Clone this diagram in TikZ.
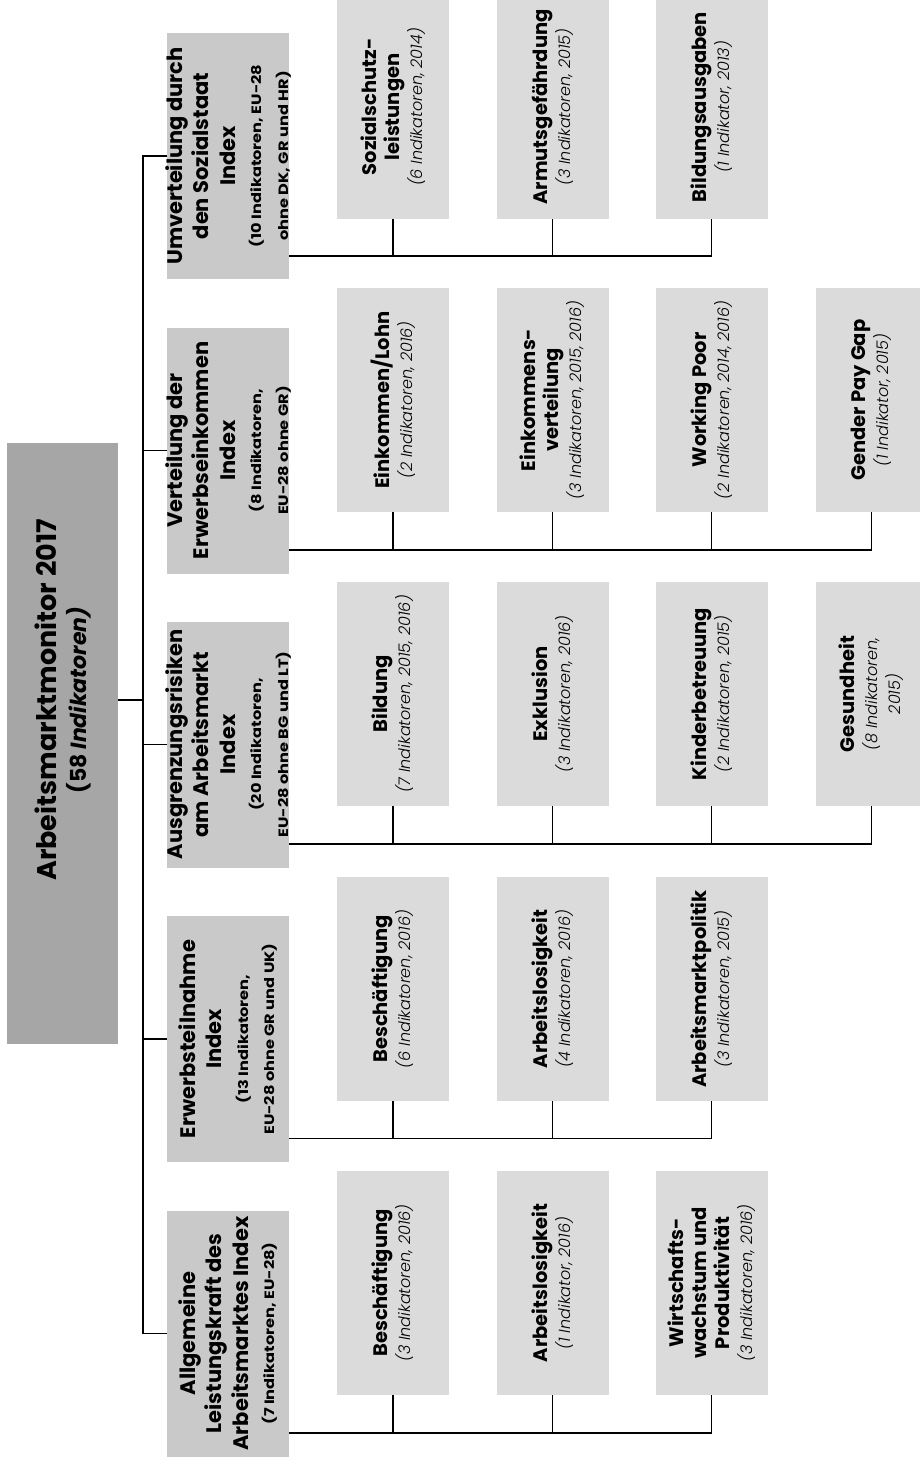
\documentclass[tikz,border=0pt]{standalone}
\usepackage{fontspec}
\setmainfont{Poppins}
\newfontfamily\lightit{Poppins}[UprightFont={* Light Italic}, BoldFont={* Italic}]
\newfontfamily\widebold{Poppins}[FakeStretch=1.2]
\definecolor{rootgray}{HTML}{A6A6A6}
\definecolor{catgray}{HTML}{C9C9C9}
\definecolor{subgray}{HTML}{DBDBDB}
\newcommand{\smb}[1]{{\widebold\fontsize{13.5}{16}\selectfont\bfseries #1}}
\newcommand{\sit}[1]{{\lightit\fontsize{16}{17}\selectfont\mdseries #1}}
\tikzset{
  rootbox/.style={fill=rootgray, draw=none, minimum width=111pt, minimum height=601pt, inner sep=0pt},
  catbox/.style={fill=catgray, draw=none, minimum width=122pt, minimum height=246pt, inner sep=0pt},
  subbox/.style={fill=subgray, draw=none, minimum width=112pt, minimum height=224pt, inner sep=0pt},
  vtext/.style={rotate=90, align=center, inner sep=0pt},
  cattext/.style={vtext, font=\fontsize{21}{26.5}\selectfont\bfseries},
  subtext/.style={vtext, font=\fontsize{19.5}{23}\selectfont\bfseries},
  link/.style={draw=black, line width=1.4pt},
}
\begin{document}
\begin{tikzpicture}[x=1pt, y=-1pt]
\useasboundingbox (0,0) rectangle (920,1464);
\fill[white] (0,0) rectangle (920,1464);

% root
\node[rootbox] (root) at (62.5,743.5) {};
\node[vtext, font=\fontsize{27}{30}\selectfont\bfseries] (roott) at (63,700)
  {Arbeitsmarktmonitor 2017\\{\fontsize{22}{26}\selectfont (58 \textit{Indikatoren)}}};

% categories
\node[catbox] (u) at (228,156) {};
\node[cattext] (ut) at (u.center) {Umverteilung durch\\den Sozialstaat\\Index\\\smb{(10 Indikatoren, EU-28}\\\smb{ohne DK, GR und HR)}};
\node[catbox] (v) at (228,450.5) {};
\node[cattext] (vt) at (v.center) {Verteilung der\\Erwerbseinkommen\\Index\\\smb{(8 Indikatoren,}\\\smb{EU-28 ohne GR)}};
\node[catbox] (a) at (228,744.5) {};
\node[cattext] (at) at (a.center) {Ausgrenzungsrisiken\\am Arbeitsmarkt\\Index\\\smb{(20 Indikatoren,}\\\smb{EU-28 ohne BG und LT)}};
\node[catbox] (e) at (228,1039) {};
\node[cattext] (et) at (e.center) {Erwerbsteilnahme\\Index\\\smb{(13 Indikatoren,}\\\smb{EU-28 ohne GR und UK)}};
\node[catbox] (g) at (228,1333.5) {};
\node[cattext] (gt) at (g.center) {Allgemeine\\Leistungskraft des\\Arbeitsmarktes Index\\\smb{(7 Indikatoren, EU-28)}};

% children: Umverteilung
\node[subbox] (u1) at (393,107) {};
\node[subtext] at (u1.center) {Sozialschutz-\\leistungen\\\sit{(6 Indikatoren, 2014)}};
\node[subbox] (u2) at (552.5,107) {};
\node[subtext] at (u2.center) {Armutsgefährdung\\\sit{(3 Indikatoren, 2015)}};
\node[subbox] (u3) at (711.5,107) {};
\node[subtext] at (u3.center) {Bildungsausgaben\\\sit{(1 Indikator, 2013)}};

% children: Verteilung
\node[subbox] (v1) at (393,400) {};
\node[subtext] at (v1.center) {Einkommen/Lohn\\\sit{(2 Indikatoren, 2016)}};
\node[subbox] (v2) at (552.5,400) {};
\node[subtext] at (v2.center) {Einkommens-\\verteilung\\\sit{(3 Indikatoren, 2015, 2016)}};
\node[subbox] (v3) at (711.5,400) {};
\node[subtext] at (v3.center) {Working Poor\\\sit{(2 Indikatoren, 2014, 2016)}};
\node[subbox] (v4) at (871.5,400) {};
\node[subtext] at (v4.center) {Gender Pay Gap\\\sit{(1 Indikator, 2015)}};

% children: Ausgrenzung
\node[subbox] (a1) at (393,694) {};
\node[subtext] at (a1.center) {Bildung\\\sit{(7 Indikatoren, 2015, 2016)}};
\node[subbox] (a2) at (552.5,694) {};
\node[subtext] at (a2.center) {Exklusion\\\sit{(3 Indikatoren, 2016)}};
\node[subbox] (a3) at (711.5,694) {};
\node[subtext] at (a3.center) {Kinderbetreuung\\\sit{(2 Indikatoren, 2015)}};
\node[subbox] (a4) at (871.5,694) {};
\node[subtext] at (a4.center) {Gesundheit\\\sit{(8 Indikatoren,}\\\sit{2015)}};

% children: Erwerbsteilnahme
\node[subbox] (e1) at (393,989) {};
\node[subtext] at (e1.center) {Beschäftigung\\\sit{(6 Indikatoren, 2016)}};
\node[subbox] (e2) at (552.5,989) {};
\node[subtext] at (e2.center) {Arbeitslosigkeit\\\sit{(4 Indikatoren, 2016)}};
\node[subbox] (e3) at (711.5,989) {};
\node[subtext] at (e3.center) {Arbeitsmarktpolitik\\\sit{(3 Indikatoren, 2015)}};

% children: Allgemeine
\node[subbox] (g1) at (393,1283) {};
\node[subtext] at (g1.center) {Beschäftigung\\\sit{(3 Indikatoren, 2016)}};
\node[subbox] (g2) at (552.5,1283) {};
\node[subtext] at (g2.center) {Arbeitslosigkeit\\\sit{(1 Indikator, 2016)}};
\node[subbox] (g3) at (711.5,1283) {};
\node[subtext] at (g3.center) {Wirtschafts-\\wachstum und\\Produktivität\\\sit{(3 Indikatoren, 2016)}};

% trunk
\coordinate (tr) at (143,700);
\draw[link] (root.east |- tr) -- (tr);
\draw[link] (u.west) -| (tr |- g.west) -- (g.west);
\draw[link] (tr |- v.west) -- (v.west);
\draw[link] (tr |- a.west) -- (a.west);
\draw[link] (tr |- e.west) -- (e.west);

% branch lines
\coordinate (uL) at (0,256);
\coordinate (vL) at (0,550);
\coordinate (aL) at (0,844);
\coordinate (eL) at (0,1138.5);
\coordinate (gL) at (0,1433);

\draw[link] (u.east |- uL) -| (u3.south);
\foreach \c in {u1,u2} \draw[link] (\c.south) -- (\c.south |- uL);
\draw[link] (v.east |- vL) -| (v4.south);
\foreach \c in {v1,v2,v3} \draw[link] (\c.south) -- (\c.south |- vL);
\draw[link] (a.east |- aL) -| (a4.south);
\foreach \c in {a1,a2,a3} \draw[link] (\c.south) -- (\c.south |- aL);
\draw[link] (e.east |- eL) -| (e3.south);
\foreach \c in {e1,e2} \draw[link] (\c.south) -- (\c.south |- eL);
\draw[link] (g.east |- gL) -| (g3.south);
\foreach \c in {g1,g2} \draw[link] (\c.south) -- (\c.south |- gL);
\end{tikzpicture}
\end{document}
